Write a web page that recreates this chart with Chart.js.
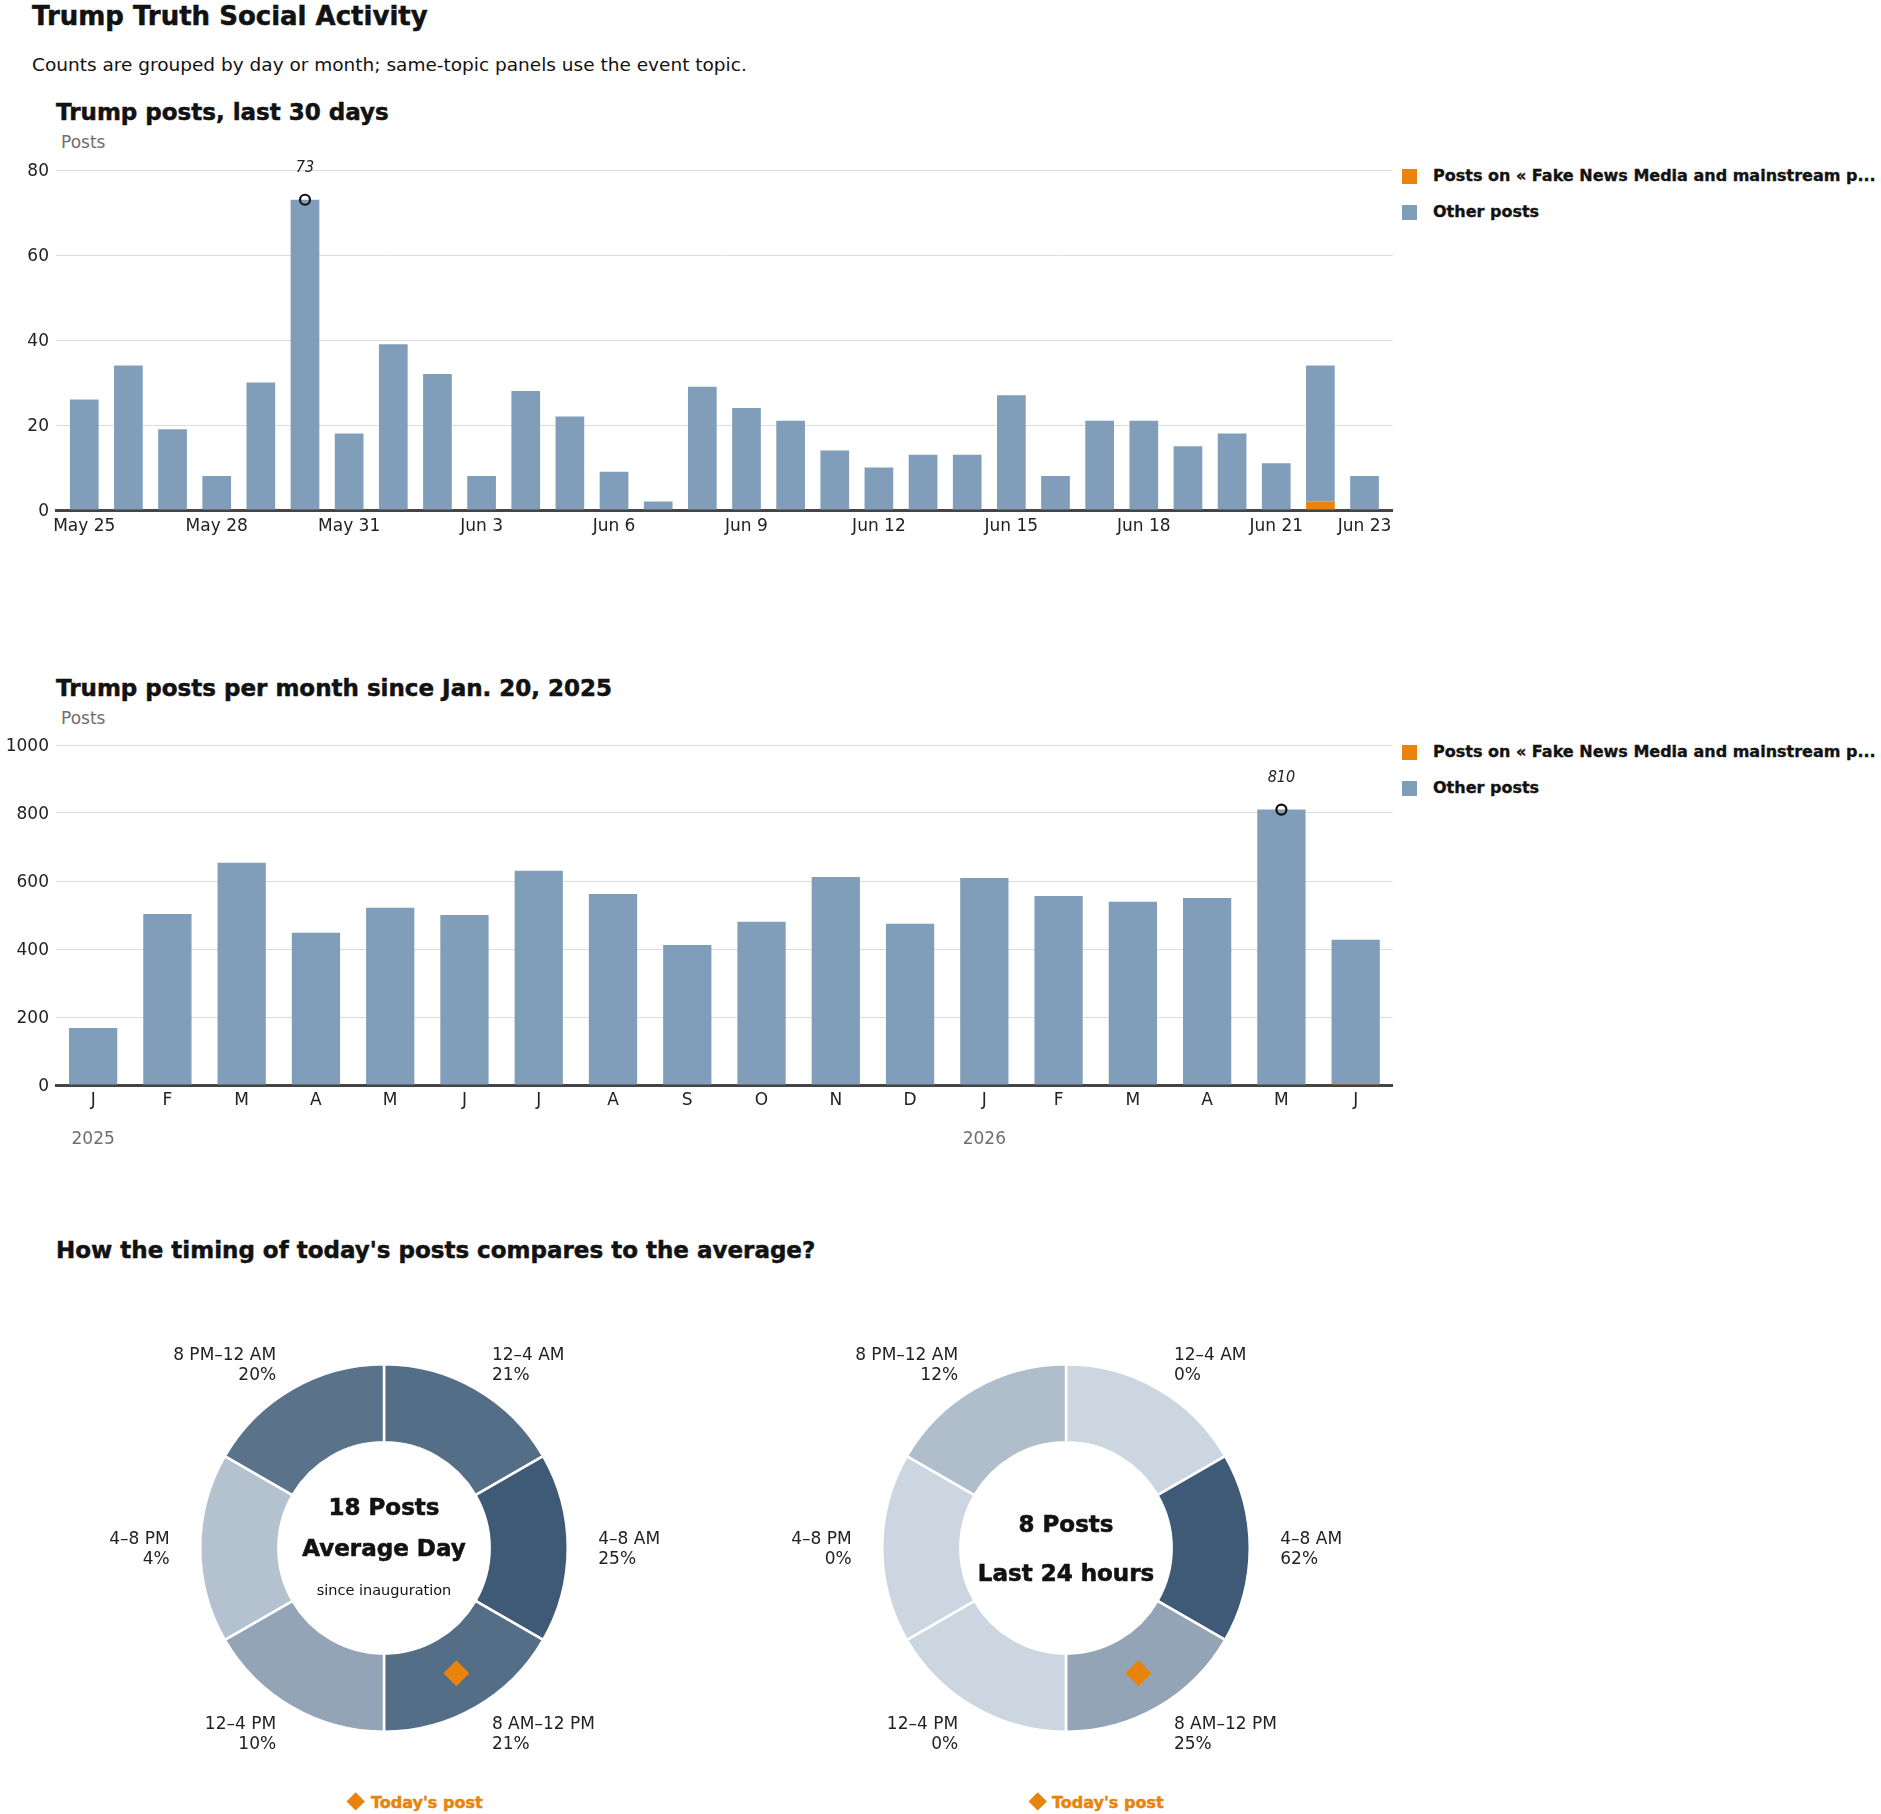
<!DOCTYPE html>
<html lang="en">
<head>
<meta charset="utf-8">
<title>Trump Truth Social Activity</title>
<script src="https://cdn.jsdelivr.net/npm/chart.js@4.4.1/dist/chart.umd.min.js"></script>
<style>
  html, body { margin: 0; padding: 0; background: #fff; }
  #page { position: relative; width: 1881px; height: 1814px; overflow: hidden;
          font-family: "DejaVu Sans", sans-serif; color: #121212; }
  .t { position: absolute; white-space: nowrap; line-height: 1; margin: 0; font-weight: normal; }
  .heavy { font-family: "DejaVu Sans", sans-serif; font-weight: bold; -webkit-text-stroke: 0.5px currentColor; }
  .muted { color: #6e6e6e; font-size: 17px; }
  canvas { position: absolute; }
  .legend { position: absolute; }
  .legend .item { position: relative; height: 36px; }
  .legend .box { position: absolute; left: 0; top: 2px; width: 15px; height: 15px; }
  .legend .lbl { position: absolute; left: 31px; top: 1.2px; white-space: nowrap; line-height: 1;
                 font-family: "DejaVu Sans", sans-serif; font-weight: bold; font-size: 16px; color: #121212;
                 -webkit-text-stroke: 0.35px currentColor; }
  .today { position: absolute; color: #e8830c; font-size: 16px; line-height: 1; white-space: nowrap; }
  .today .dia { position: absolute; width: 13.4px; height: 13.4px; background: #e8830c; transform: rotate(45deg);
                -webkit-text-stroke: 0; }
</style>
</head>
<body>
<div id="page">
  <h1 class="t heavy" style="left:32px; top:2.5px; font-size:26px;">Trump Truth Social Activity</h1>
  <p class="t" style="left:32px; top:55.8px; font-size:18.5px;">Counts are grouped by day or month; same-topic panels use the event topic.</p>

  <h2 class="t heavy" style="left:56px; top:101.2px; font-size:23px;">Trump posts, last 30 days</h2>
  <div class="t muted" style="left:61px; top:134px;">Posts</div>
  <canvas id="dailyChart" width="1400" height="400" style="left:0; top:150px;"></canvas>
  <div id="dailyLegend" class="legend" style="left:1402px; top:167.3px;"></div>

  <h2 class="t heavy" style="left:56px; top:676.6px; font-size:23px;">Trump posts per month since Jan. 20, 2025</h2>
  <div class="t muted" style="left:61px; top:710px;">Posts</div>
  <canvas id="monthlyChart" width="1400" height="440" style="left:0; top:725px;"></canvas>
  <div id="monthlyLegend" class="legend" style="left:1402px; top:743.3px;"></div>

  <h2 class="t heavy" style="left:56px; top:1239.2px; font-size:23px;">How the timing of today's posts compares to the average?</h2>
  <canvas id="avgDonut" width="640" height="440" style="left:64px; top:1330px;"></canvas>
  <canvas id="dayDonut" width="640" height="440" style="left:746px; top:1330px;"></canvas>
  <div class="today heavy" style="left:371px; top:1794.5px;"><span class="dia" style="left:-21.7px; top:0px;"></span>Today's post</div>
  <div class="today heavy" style="left:1052px; top:1794.5px;"><span class="dia" style="left:-20.7px; top:0px;"></span>Today's post</div>
</div>

<script>
// Dane: ostatnie 30 dni
const days = ['May 25', 'May 26', 'May 27', 'May 28', 'May 29', 'May 30', 'May 31',
  'Jun 1', 'Jun 2', 'Jun 3', 'Jun 4', 'Jun 5', 'Jun 6', 'Jun 7', 'Jun 8', 'Jun 9', 'Jun 10',
  'Jun 11', 'Jun 12', 'Jun 13', 'Jun 14', 'Jun 15', 'Jun 16', 'Jun 17', 'Jun 18', 'Jun 19',
  'Jun 20', 'Jun 21', 'Jun 22', 'Jun 23'];
const dayTicks = ['May 25', 'May 28', 'May 31', 'Jun 3', 'Jun 6', 'Jun 9', 'Jun 12', 'Jun 15', 'Jun 18', 'Jun 21', 'Jun 23'];
const topicDaily = [0, 0, 0, 0, 0, 0, 0, 0, 0, 0, 0, 0, 0, 0, 0, 0, 0, 0, 0, 0, 0, 0, 0, 0, 0, 0, 0, 0, 2, 0];
const otherDaily = [26, 34, 19, 8, 30, 73, 18, 39, 32, 8, 28, 22, 9, 2, 29, 24, 21, 14, 10, 13, 13, 27, 8, 21, 21, 15, 18, 11, 32, 8];
const dailyTicks = [0, 20, 40, 60, 80];

// Dane: miesiące od inauguracji
const months = ['J', 'F', 'M', 'A', 'M', 'J', 'J', 'A', 'S', 'O', 'N', 'D', 'J', 'F', 'M', 'A', 'M', 'J'];
const monthYears = ['2025', '', '', '', '', '', '', '', '', '', '', '', '2026', '', '', '', '', ''];
const topicMonthly = [0, 0, 0, 0, 0, 0, 0, 0, 0, 0, 0, 0, 0, 0, 0, 0, 0, 2];
const otherMonthly = [168, 503, 654, 448, 521, 500, 630, 562, 412, 480, 612, 474, 609, 556, 539, 550, 810, 425];
const monthlyTicks = [0, 200, 400, 600, 800, 1000];

const topicLabel = 'Posts on « Fake News Media and mainstream p...';
const otherLabel = 'Other posts';

// Dane: pory dnia
const timeSlots = ['12–4 AM', '4–8 AM', '8 AM–12 PM', '12–4 PM', '4–8 PM', '8 PM–12 AM'];
const slotHours = [4, 4, 4, 4, 4, 4];
const avgSlotPct = [21, 25, 21, 10, 4, 20];
const last24SlotPct = [0, 62, 25, 0, 0, 12];
const avgPostsPerDay = 18;
const last24Posts = 8;
const todaySlot = 2;

// Style
const ORANGE = '#e8830c';
const BLUE = '#809eba';
const GRID = '#dcdcdc';
const AXIS = '#444444';
const INK = '#222222';
const MUTED = '#6e6e6e';
const SLOT_LIGHT = [203, 214, 224];
const SLOT_DARK = [62, 90, 118];
const SANS = '"DejaVu Sans", sans-serif';
const tickFont = { family: SANS, size: 17 };

function sumSeries(a, b) {
  return a.map((v, i) => v + b[i]);
}

function peakDataset(totals) {
  const peak = Math.max(...totals);
  return {
    type: 'line',
    label: 'peak',
    data: totals.map(v => (v === peak ? v : null)),
    showLine: false,
    order: -1,
    stack: 'peak',
    pointRadius: 5,
    pointBorderWidth: 2.2,
    pointBorderColor: '#111',
    pointBackgroundColor: 'rgba(0,0,0,0)'
  };
}

// Podpis nad punktem maksimum
const peakLabel = {
  id: 'peakLabel',
  afterDatasetsDraw(chart) {
    const ctx = chart.ctx;
    const idx = chart.data.datasets.findIndex(d => d.label === 'peak');
    const ds = chart.data.datasets[idx];
    const meta = chart.getDatasetMeta(idx);
    ctx.save();
    ctx.font = 'italic 16px "Liberation Sans Narrow", "DejaVu Sans Condensed", sans-serif';
    ctx.fillStyle = INK;
    ctx.textAlign = 'center';
    ctx.textBaseline = 'middle';
    meta.data.forEach((pt, i) => {
      if (ds.data[i] == null) return;
      ctx.fillText(String(ds.data[i]), pt.x, pt.y - 32);
    });
    ctx.restore();
  }
};

function buildLegend(chart, id) {
  const el = document.getElementById(id);
  el.innerHTML = chart.data.datasets
    .filter(d => d.type !== 'line')
    .map(d => `<div class="item"><span class="box" style="background:${d.backgroundColor}"></span><span class="lbl">${d.label}</span></div>`)
    .join('');
}

function yAxis(ticks) {
  return {
    stacked: true,
    min: ticks[0],
    max: ticks[ticks.length - 1],
    afterBuildTicks: s => { s.ticks = ticks.map(v => ({ value: v })); },
    grid: { color: GRID, lineWidth: 1, drawTicks: false },
    border: { display: false },
    ticks: { font: tickFont, color: INK, padding: 7, labelOffset: 2, callback: v => String(v) },
    afterFit: s => { s.width = 56; }
  };
}

// Wykres dzienny
const dailyTotals = sumSeries(topicDaily, otherDaily);
const dailyChart = new Chart(document.getElementById('dailyChart'), {
  type: 'bar',
  data: {
    labels: days.map((d, i) => i),
    datasets: [
      { label: topicLabel, data: topicDaily, backgroundColor: ORANGE, stack: 'posts', barPercentage: 0.65, categoryPercentage: 1 },
      { label: otherLabel, data: otherDaily, backgroundColor: BLUE, stack: 'posts', barPercentage: 0.65, categoryPercentage: 1 },
      peakDataset(dailyTotals)
    ]
  },
  options: {
    responsive: false,
    animation: false,
    layout: { padding: { top: 20, right: 6, left: 0, bottom: 0 } },
    plugins: { legend: { display: false }, tooltip: { enabled: false } },
    scales: {
      x: {
        type: 'linear',
        offset: false,
        min: -0.64,
        max: days.length - 1 + 0.64,
        stacked: true,
        afterBuildTicks: s => { s.ticks = dayTicks.map(t => ({ value: days.indexOf(t) })); },
        grid: { display: false, drawTicks: false, offset: false },
        border: { color: AXIS, width: 3 },
        ticks: { font: tickFont, color: INK, padding: 6, autoSkip: false, maxRotation: 0, callback: v => days[v] },
        afterFit: s => { s.height = 40; }
      },
      y: yAxis(dailyTicks)
    }
  },
  plugins: [peakLabel]
});
buildLegend(dailyChart, 'dailyLegend');

// Wykres miesięczny
const monthlyTotals = sumSeries(topicMonthly, otherMonthly);
const monthlyChart = new Chart(document.getElementById('monthlyChart'), {
  type: 'bar',
  data: {
    labels: months,
    datasets: [
      { label: topicLabel, data: topicMonthly, backgroundColor: ORANGE, stack: 'posts', barPercentage: 0.65, categoryPercentage: 1 },
      { label: otherLabel, data: otherMonthly, backgroundColor: BLUE, stack: 'posts', barPercentage: 0.65, categoryPercentage: 1 },
      peakDataset(monthlyTotals)
    ]
  },
  options: {
    responsive: false,
    animation: false,
    layout: { padding: { top: 20, right: 6, left: 0, bottom: 0 } },
    plugins: { legend: { display: false }, tooltip: { enabled: false } },
    scales: {
      x: {
        stacked: true,
        weight: 0,
        grid: { display: false, drawTicks: false },
        border: { color: AXIS, width: 3 },
        ticks: { font: tickFont, color: INK, padding: 5.5, autoSkip: false, maxRotation: 0 },
        afterFit: s => { s.height = 40; }
      },
      year: {
        type: 'category',
        labels: monthYears,
        position: 'bottom',
        offset: true,
        weight: 1,
        grid: { display: false, drawTicks: false },
        border: { display: false },
        ticks: { font: tickFont, color: MUTED, padding: 4.5, autoSkip: false, maxRotation: 0 },
        afterFit: s => { s.height = 40; }
      },
      y: yAxis(monthlyTicks)
    }
  },
  plugins: [peakLabel]
});
buildLegend(monthlyChart, 'monthlyLegend');

// Pierścienie: pora dnia
function slotColor(pct, max) {
  const t = max ? pct / max : 0;
  const c = SLOT_LIGHT.map((l, k) => Math.round(l + (SLOT_DARK[k] - l) * t));
  return `rgb(${c.join(',')})`;
}

function donutText(pcts, centerLines) {
  return {
    id: 'donutText',
    afterDatasetsDraw(chart) {
      const ctx = chart.ctx;
      const arcs = chart.getDatasetMeta(0).data;
      ctx.save();
      ctx.fillStyle = INK;
      ctx.textBaseline = 'middle';
      ctx.font = '17px ' + SANS;
      arcs.forEach((arc, i) => {
        const mid = (arc.startAngle + arc.endAngle) / 2;
        const r = arc.outerRadius + 29;
        const side = Math.cos(mid) > 0.01 ? 1 : -1;
        const x = arc.x + Math.cos(mid) * r + side * 1.5;
        const y = arc.y + Math.sin(mid) * r + 2;
        ctx.textAlign = side > 0 ? 'left' : 'right';
        ctx.fillText(timeSlots[i], x, y - 10);
        ctx.fillText(pcts[i] + '%', x, y + 10);
      });

      // znacznik dzisiejszego wpisu
      const p = arcs[todaySlot].tooltipPosition();
      ctx.fillStyle = ORANGE;
      ctx.beginPath();
      ctx.moveTo(p.x, p.y - 13);
      ctx.lineTo(p.x + 13, p.y);
      ctx.lineTo(p.x, p.y + 13);
      ctx.lineTo(p.x - 13, p.y);
      ctx.closePath();
      ctx.fill();

      // tekst w środku
      const cx = arcs[0].x;
      const cy = arcs[0].y;
      ctx.textAlign = 'center';
      ctx.fillStyle = '#121212';
      ctx.strokeStyle = '#121212';
      centerLines.forEach(line => {
        ctx.font = line.font;
        ctx.fillText(line.text, cx, cy + line.dy);
        if (line.stroke) {
          ctx.lineWidth = line.stroke;
          ctx.strokeText(line.text, cx, cy + line.dy);
        }
      });
      ctx.restore();
    }
  };
}

function makeDonut(id, pcts, centerLines) {
  const max = Math.max(...pcts);
  return new Chart(document.getElementById(id), {
    type: 'doughnut',
    data: {
      labels: timeSlots,
      datasets: [{
        data: slotHours,
        backgroundColor: pcts.map(p => slotColor(p, max)),
        borderColor: '#ffffff',
        borderWidth: 2.5
      }]
    },
    options: {
      responsive: false,
      animation: false,
      cutout: '57.5%',
      layout: { padding: { left: 135, right: 135, top: 33, bottom: 37 } },
      plugins: { legend: { display: false }, tooltip: { enabled: false } }
    },
    plugins: [donutText(pcts, centerLines)]
  });
}

makeDonut('avgDonut', avgSlotPct, [
  { text: avgPostsPerDay + ' Posts', font: 'bold 23px ' + SANS, dy: -38.5, stroke: 0.6 },
  { text: 'Average Day', font: 'bold 23px ' + SANS, dy: 2.5, stroke: 0.6 },
  { text: 'since inauguration', font: '14.5px ' + SANS, dy: 43.5 }
]);
makeDonut('dayDonut', last24SlotPct, [
  { text: last24Posts + ' Posts', font: 'bold 23px ' + SANS, dy: -21.5, stroke: 0.6 },
  { text: 'Last 24 hours', font: 'bold 23px ' + SANS, dy: 27, stroke: 0.6 }
]);
</script>
</body>
</html>
